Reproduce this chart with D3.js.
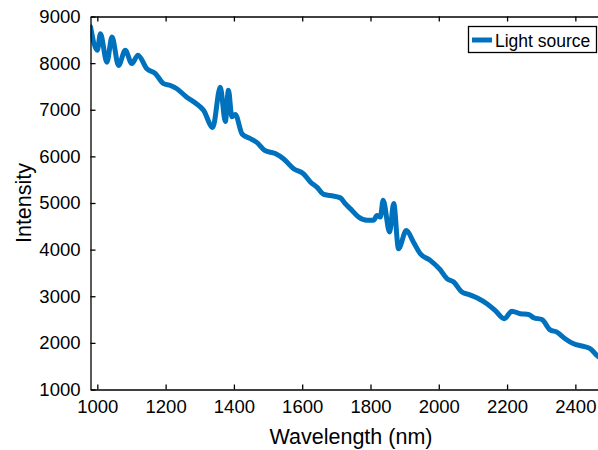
<!DOCTYPE html>
<html><head><meta charset="utf-8">
<script src="https://cdn.jsdelivr.net/npm/d3@7/dist/d3.min.js"></script>
<style>body{margin:0;background:#fff}svg{display:block}text{font-family:"Liberation Sans",Arial,Helvetica,sans-serif}</style>
</head><body><svg id="c" width="598" height="450"></svg>
<script>
const wavelength = [980,1000,1009,1028,1043,1062,1082,1101,1119,1145,1170,1194,1214,1233,1262,1290,1311,1338,1360,1375,1384,1394,1404,1424,1448,1467,1490,1521,1545,1575,1604,1624,1643,1663,1682,1712,1726,1746,1765,1790,1809,1819,1829,1837,1856,1868,1882,1905,1926,1946,1975,2004,2024,2043,2068,2087,2117,2141,2165,2192,2214,2239,2263,2278,2302,2326,2346,2370,2395,2424,2444,2463,2480];
const intensity = [8780,8275,8630,8020,8560,7950,8275,7990,8170,7880,7775,7560,7520,7450,7270,7130,6990,6620,7480,6750,7420,6850,6900,6480,6380,6300,6130,6060,5950,5735,5625,5450,5340,5185,5160,5110,4985,4840,4700,4630,4630,4730,4700,5060,4380,4990,4020,4410,4160,3910,3770,3570,3380,3310,3090,3040,2945,2840,2695,2517,2680,2625,2610,2540,2500,2280,2230,2090,1980,1925,1875,1730,1640];
const xTicks = [1000,1200,1400,1600,1800,2000,2200,2400];
const yTicks = [1000,2000,3000,4000,5000,6000,7000,8000,9000];
const seriesName = "Light source";

const svg = d3.select("#c");
const L = 90.5, T = 16.5, B = 389.5, R = 609.5;
const x = d3.scaleLinear().domain([980, 2500]).range([L, R]);
const y = d3.scaleLinear().domain([1000, 9000]).range([B, T]);
const data = wavelength.map((w, i) => [w, intensity[i]]);

svg.append("clipPath").attr("id","cp").append("rect").attr("x",L).attr("y",T).attr("width",R-L).attr("height",B-T);
svg.append("path").datum(data).attr("clip-path","url(#cp)")
  .attr("fill","none").attr("stroke","#0072BD").attr("stroke-width",5)
  .attr("stroke-linejoin","round").attr("stroke-linecap","round")
  .attr("d", d3.line().x(d=>x(d[0])).y(d=>y(d[1])).curve(d3.curveMonotoneX));

const fs = 18.5;
const bx = svg.append("g").attr("transform",`translate(0,${B})`)
  .call(d3.axisBottom(x).tickValues(xTicks).tickSizeInner(-5).tickSizeOuter(0).tickPadding(10).tickFormat(d3.format("d")));
const tx = svg.append("g").attr("transform",`translate(0,${T})`)
  .call(d3.axisTop(x).tickValues(xTicks).tickSizeInner(-5).tickSizeOuter(0).tickFormat(""));
const ly = svg.append("g").attr("transform",`translate(${L},0)`)
  .call(d3.axisLeft(y).tickValues(yTicks).tickSizeInner(-5).tickSizeOuter(0).tickPadding(10).tickFormat(d3.format("d")));
[bx,tx,ly].forEach(g=>{
  g.select(".domain").attr("stroke","#000").attr("stroke-width",1.3);
  g.selectAll(".tick line").attr("stroke","#000").attr("stroke-width",1.3);
  g.selectAll("text").attr("fill","#000").style("font-size",fs+"px").style("font-family",'"Liberation Sans",Arial,sans-serif');
});
bx.selectAll("text").attr("dy","0.71em");

svg.append("text").attr("x",351).attr("y",444).attr("text-anchor","middle").style("font-size","21.5px").text("Wavelength (nm)");
svg.append("text").attr("transform","translate(31,203) rotate(-90)").attr("text-anchor","middle").style("font-size","21.5px").text("Intensity");

// legend
const lg = svg.append("g");
lg.append("rect").attr("x",468.5).attr("y",26.5).attr("width",128).attr("height",26).attr("fill","#fff").attr("stroke","#000").attr("stroke-width",1.3);
lg.append("line").attr("x1",472).attr("x2",492).attr("y1",40).attr("y2",40).attr("stroke","#0072BD").attr("stroke-width",5);
lg.append("text").attr("x",495).attr("y",46.5).style("font-size","17.5px").text(seriesName);
</script></body></html>
